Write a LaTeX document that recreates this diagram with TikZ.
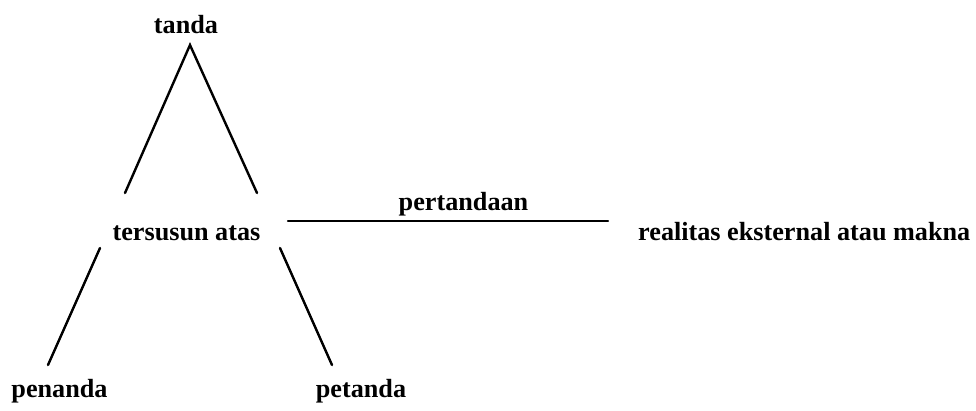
\documentclass[tikz,border=0pt]{standalone}
\usepackage{fontspec}
\setmainfont{Liberation Serif}
\begin{document}
\begin{tikzpicture}[x=1pt,y=-1pt,
  lbl/.style={inner sep=0pt,anchor=base,font=\fontsize{26.2}{30}\selectfont\bfseries},
  ln/.style={line width=2.4pt,line cap=round}]
\useasboundingbox (0,0) rectangle (976,410);
\node[lbl] (tanda) at (186,33) {tanda};
\node[lbl] (tersusun) at (186.5,240) {tersusun atas};
\node[lbl] (penanda) at (59.5,397) {penanda};
\node[lbl] (petanda) at (361,397) {petanda};
\node[lbl] (pertandaan) at (463.5,210) {pertandaan};
\node[lbl,anchor=base west] (realitas) at (638,240) {realitas eksternal atau makna};
\coordinate (apex) at (190,45);
\coordinate (ul) at (125,193);
\coordinate (ur) at (257,193);
\coordinate (ll1) at (100,248);
\coordinate (ll2) at (48,365);
\coordinate (lr1) at (280,248);
\coordinate (lr2) at (332,365);
\coordinate (h1) at (288,221);
\coordinate (h2) at (608,221);
\draw[ln] (ul) -- (apex) -- (ur);
\draw[ln] (ll1) -- (ll2);
\draw[ln] (lr1) -- (lr2);
\draw[ln] (h1) -- (h2);
\end{tikzpicture}
\end{document}
